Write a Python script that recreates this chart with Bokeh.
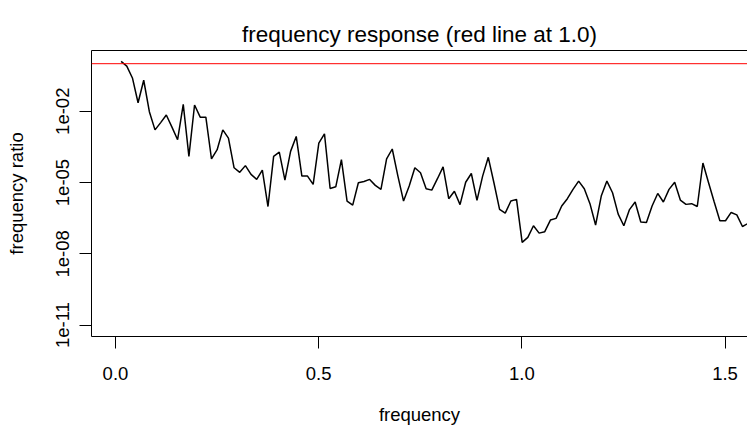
from bokeh.plotting import figure
from bokeh.models import (Span, FixedTicker, CustomJSTickFormatter, PrintfTickFormatter,
                          LinearAxis, Range1d)
from bokeh.embed import file_html
from bokeh.resources import INLINE

# ---- data ----
freq_step = 0.0139
log10_ratio = [0.096, -0.10, -0.60, -1.645, -0.697, -2.02, -2.785, -2.48, -2.16, -2.67,
               -3.20, -1.71, -3.90, -1.74, -2.25, -2.25, -4.01, -3.62, -2.785, -3.13,
               -4.38, -4.57, -4.29, -4.66, -4.87, -4.48, -6.01, -3.90, -3.72, -4.90,
               -3.69, -3.06, -4.73, -4.73, -5.08, -3.34, -2.95, -5.25, -5.18, -4.04,
               -5.78, -5.95, -5.01, -4.96, -4.87, -5.12, -5.29, -4.01, -3.59, -4.73,
               -5.78, -5.15, -4.38, -4.59, -5.26, -5.32, -4.84, -4.34, -5.68, -5.37,
               -5.93, -4.99, -4.62, -5.75, -4.73, -3.94, -5.01, -6.13, -6.29, -5.78,
               -5.71, -7.52, -7.31, -6.82, -7.13, -7.07, -6.58, -6.51, -5.99, -5.68,
               -5.29, -4.94, -5.26, -5.89, -6.79, -5.57, -4.94, -5.43, -6.33, -6.82,
               -6.14, -5.82, -6.66, -6.68, -5.99, -5.46, -5.82, -5.29, -4.99, -5.74,
               -5.92, -5.89, -6.01, -4.18, -5.01, -5.82, -6.61, -6.61, -6.26, -6.36,
               -6.85, -6.72]
frequency = [round((k + 1) * freq_step, 5) for k in range(len(log10_ratio))]
ratio = [10 ** v for v in log10_ratio]
reference_level = 1.0
x_ticks = [0.0, 0.5, 1.0, 1.5]
y_ticks = [1e-11, 1e-8, 1e-5, 1e-2]

FONT = "Liberation Sans"
AX_FS = "18.5px"

p = figure(width=747, height=427, output_backend="svg", toolbar_location=None,
           y_axis_type="log",
           x_range=Range1d(-0.059, 1.5553), y_range=Range1d(10 ** -11.48, 10 ** 0.555),
           min_border_left=91, min_border_right=0, min_border_top=50, min_border_bottom=89,
           title="frequency response (red line at 1.0)")

p.title.align = "center"
p.title.vertical_align = "top"
p.title.text_font = FONT
p.title.text_font_size = "22.5px"
p.title.text_font_style = "normal"
p.title.text_color = "black"
p.title.standoff = 4

p.outline_line_color = None
p.xgrid.visible = False
p.ygrid.visible = False
p.background_fill_color = "white"
p.border_fill_color = "white"

p.line(frequency, ratio, line_color="black", line_width=1.5)
p.add_layout(Span(location=reference_level, dimension="width", line_color="red", line_width=1))

# x axis
xa = p.xaxis[0]
xa.ticker = FixedTicker(ticks=x_ticks)
xa.formatter = PrintfTickFormatter(format="%.1f")
xa.axis_label = "frequency"
# y axis
ya = p.yaxis[0]
ya.ticker = FixedTicker(ticks=y_ticks)
ya.formatter = CustomJSTickFormatter(code="""
const e = Math.round(Math.log10(tick));
const s = e < 0 ? '-' : '+';
return '1e' + s + String(Math.abs(e)).padStart(2, '0');
""")
ya.axis_label = "frequency ratio"
ya.major_label_orientation = "vertical"

for ax in (xa, ya):
    ax.axis_line_color = "black"
    ax.axis_line_width = 1
    ax.major_tick_line_color = "black"
    ax.major_tick_out = 12
    ax.major_tick_in = 0
    ax.minor_tick_line_color = None
    ax.major_label_text_font = FONT
    ax.major_label_text_font_size = AX_FS
    ax.major_label_text_color = "black"
    ax.axis_label_text_font = FONT
    ax.axis_label_text_font_size = AX_FS
    ax.axis_label_text_font_style = "normal"
    ax.axis_label_text_color = "black"
xa.major_label_standoff = 18
xa.axis_label_standoff = 21
ya.major_label_standoff = 10
ya.axis_label_standoff = 27

# top border of the box (empty ticker; its tick length spaces the title upward)
top = LinearAxis(ticker=FixedTicker(ticks=[]), major_label_text_font_size="0px",
                 major_tick_line_color="black", minor_tick_line_color=None,
                 major_tick_out=17, major_tick_in=0, major_label_standoff=0,
                 axis_line_color="black")
p.add_layout(top, "above")

open("out.html", "w").write(file_html(p, INLINE))
